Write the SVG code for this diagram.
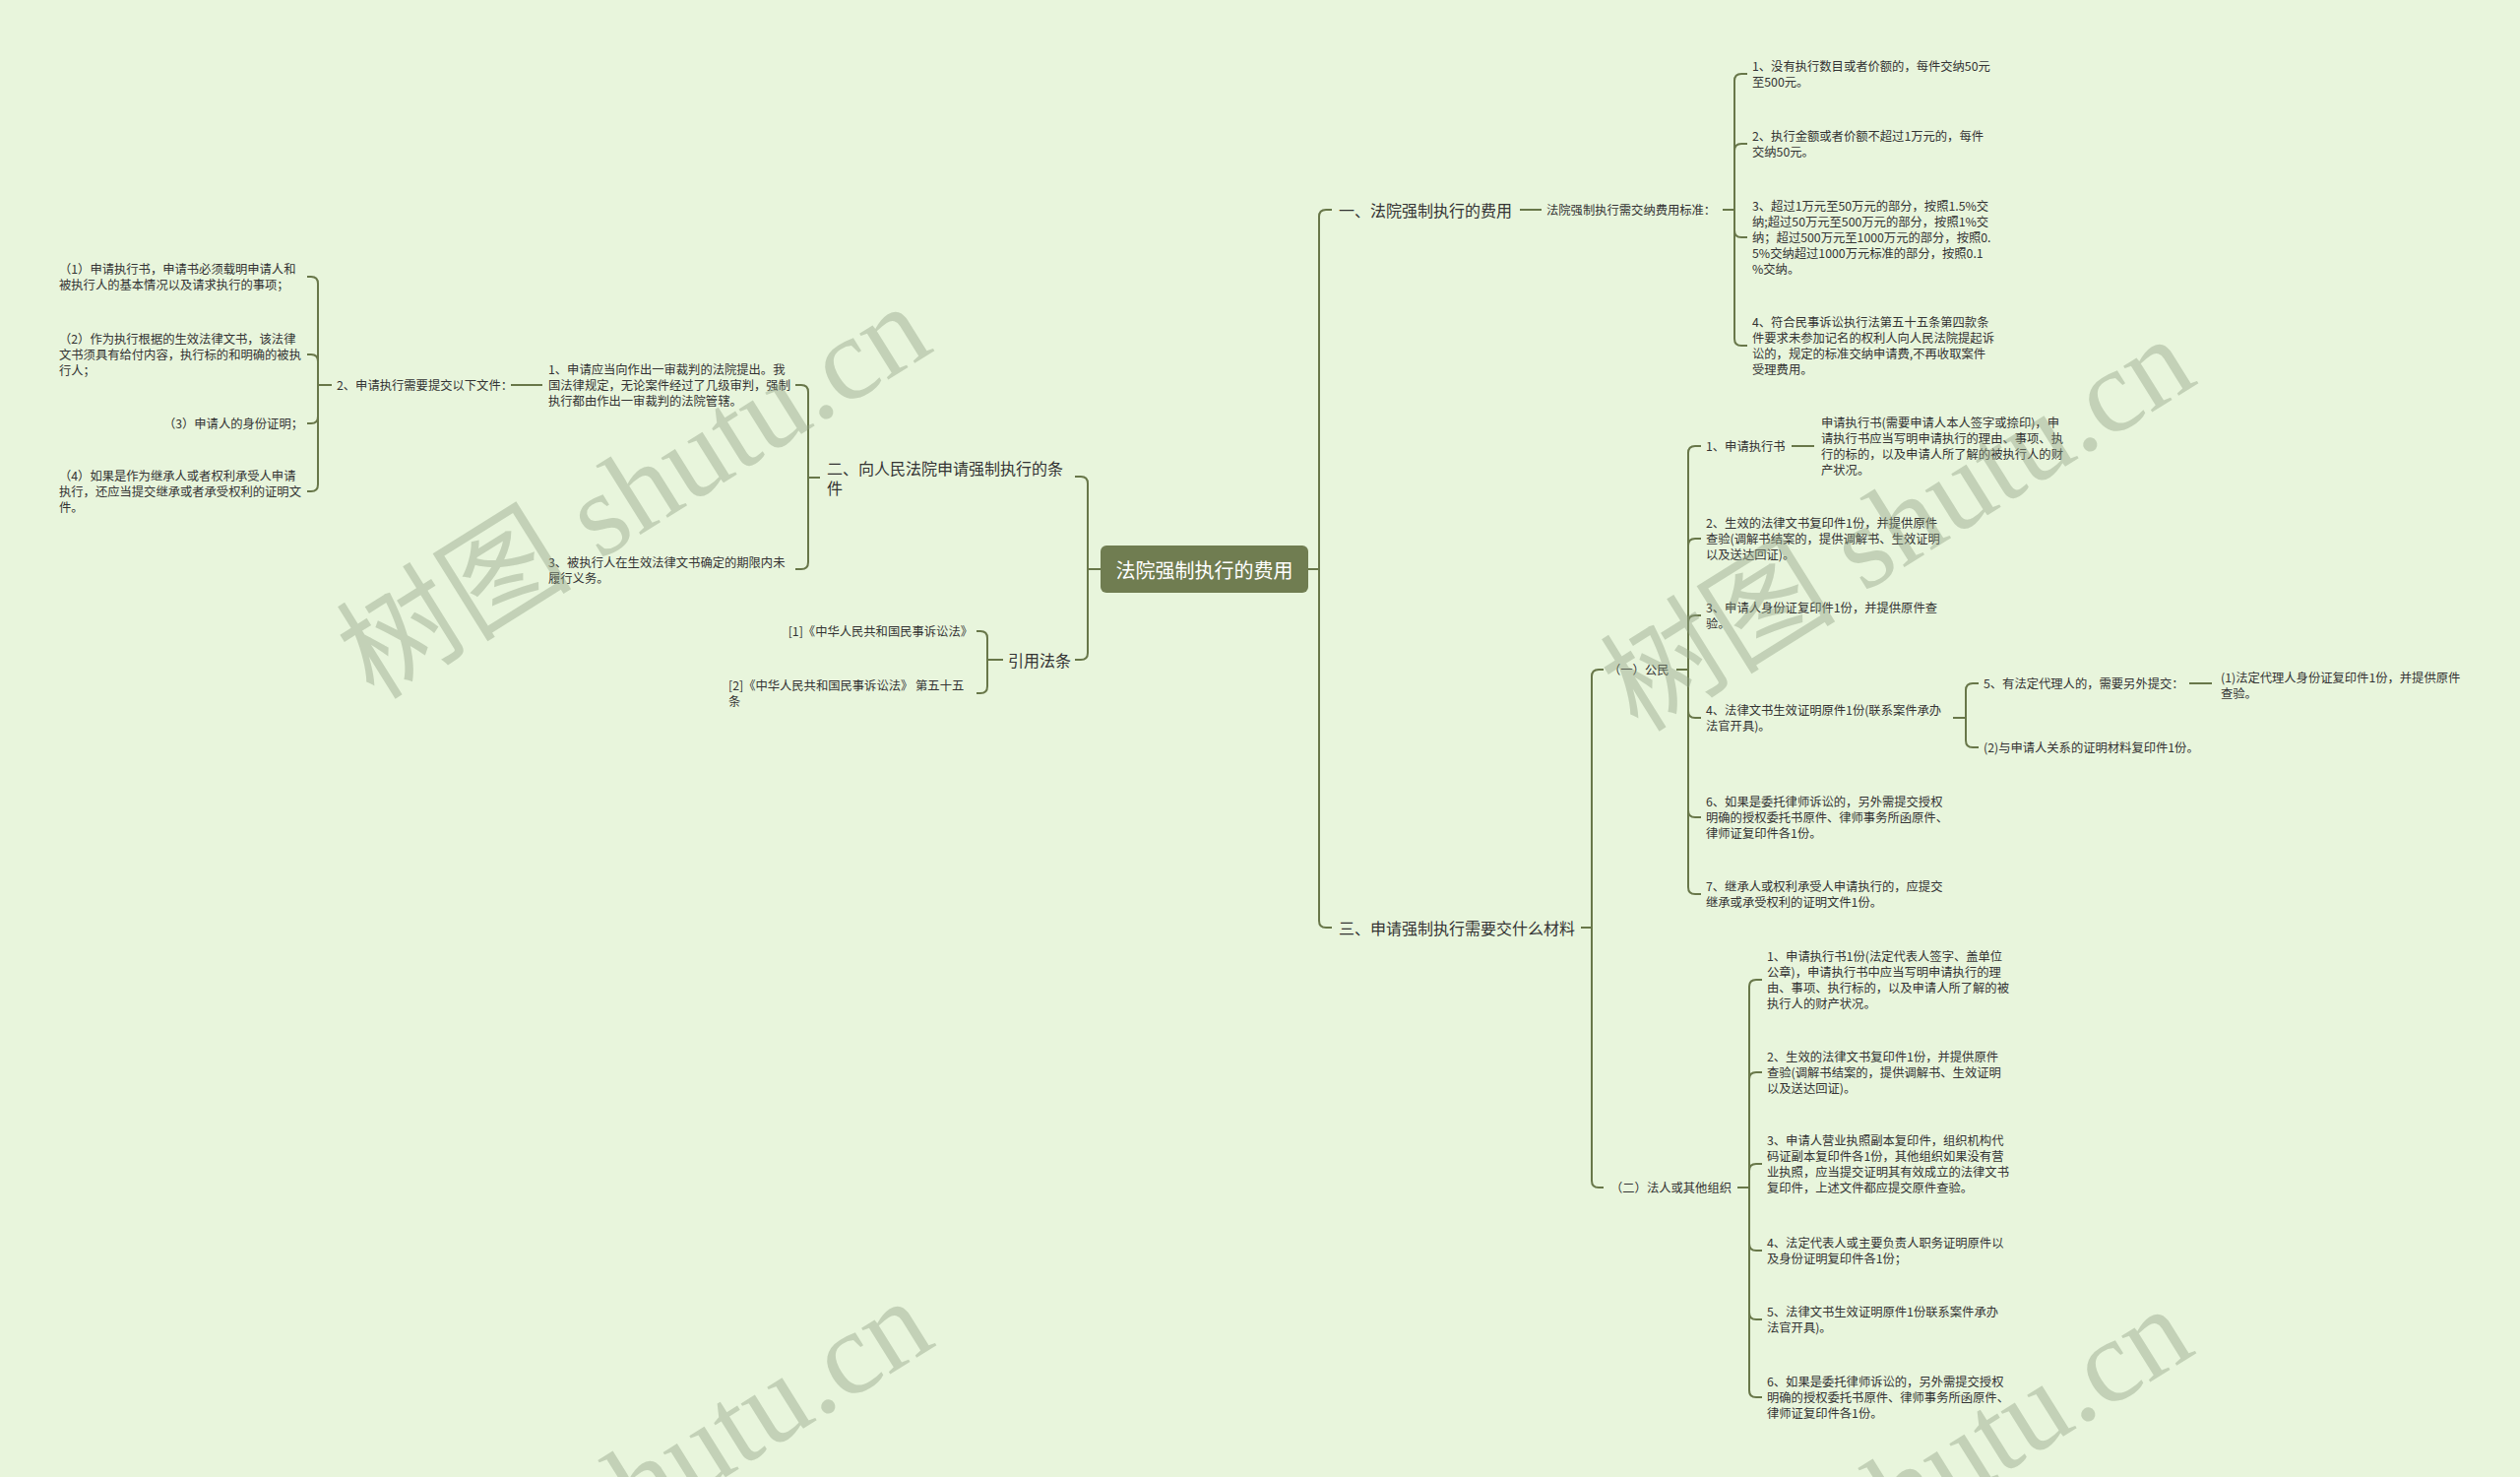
<svg xmlns="http://www.w3.org/2000/svg" width="2560" height="1500" viewBox="0 0 2560 1500">
<style>
text{font-family:"Noto Sans CJK SC","Noto Sans",sans-serif;fill:#333;dominant-baseline:central}
.s{font-size:12.3px}
.m{font-size:16px}
.root{font-size:20px;fill:#fff}
.c path,.c line{fill:none;stroke:#687749;stroke-width:2}
.wm{font-family:"Liberation Serif","Noto Sans CJK SC",serif;font-size:120px;fill:#8f9f82;fill-opacity:0.42;dominant-baseline:alphabetic}
</style>
<rect x="0" y="0" width="2560" height="1500" fill="#e8f5dc"/>

<g class="c" id="connectors">
<!-- root right -->
<path d="M1329,578 H1340 V220 Q1340,213 1347,213 H1353"/>
<path d="M1329,578 H1340 V935 Q1340,942 1347,942 H1353"/>
<!-- root left -->
<path d="M1118,578 H1105 V491 Q1105,484 1098,484 H1092"/>
<path d="M1118,578 H1105 V663 Q1105,670 1098,670 H1092"/>
<!-- 二 -->
<path d="M833,485 H821 V398 Q821,391 814,391 H808"/>
<path d="M833,485 H821 V571 Q821,578 814,578 H808"/>
<!-- N1 to 2、 -->
<path d="M551,391 H519"/>
<!-- 2、 children -->
<path d="M337,391 H323 V288 Q323,281 316,281 H312"/>
<path d="M337,391 H323 V367 Q323,360 316,360 H312"/>
<path d="M337,391 H323 V423 Q323,430 316,430 H312"/>
<path d="M337,391 H323 V492 Q323,499 316,499 H312"/>
<!-- 引用法条 -->
<path d="M1019,670 H1003 V648 Q1003,641 996,641 H992"/>
<path d="M1019,670 H1003 V697 Q1003,704 996,704 H992"/>
<!-- 一 -->
<path d="M1544,213 H1566"/>
<path d="M1750,213 H1762 V82 Q1762,75 1769,75 H1775"/>
<path d="M1750,213 H1762 V153 Q1762,146 1769,146 H1775"/>
<path d="M1750,213 H1762 V234 Q1762,241 1769,241 H1775"/>
<path d="M1750,213 H1762 V344 Q1762,351 1769,351 H1775"/>
<!-- 三 -->
<path d="M1606,942 H1617 V687 Q1617,680 1624,680 H1629"/>
<path d="M1606,942 H1617 V1199 Q1617,1206 1624,1206 H1629"/>
<!-- 公民 -->
<path d="M1703,680 H1715 V460 Q1715,453 1722,453 H1728"/>
<path d="M1703,680 H1715 V554 Q1715,547 1722,547 H1728"/>
<path d="M1703,680 H1715 V632 Q1715,625 1722,625 H1728"/>
<path d="M1703,680 H1715 V722 Q1715,729 1722,729 H1728"/>
<path d="M1703,680 H1715 V823 Q1715,830 1722,830 H1728"/>
<path d="M1703,680 H1715 V901 Q1715,908 1722,908 H1728"/>
<path d="M1820,453 H1843"/>
<path d="M1984,729 H1997 V701 Q1997,694 2004,694 H2010"/>
<path d="M1984,729 H1997 V752 Q1997,759 2004,759 H2010"/>
<path d="M2224,694 H2247"/>
<!-- 法人 -->
<path d="M1765,1206 H1777 V1002 Q1777,995 1784,995 H1790"/>
<path d="M1765,1206 H1777 V1096 Q1777,1089 1784,1089 H1790"/>
<path d="M1765,1206 H1777 V1189 Q1777,1182 1784,1182 H1790"/>
<path d="M1765,1206 H1777 V1263 Q1777,1270 1784,1270 H1790"/>
<path d="M1765,1206 H1777 V1333 Q1777,1340 1784,1340 H1790"/>
<path d="M1765,1206 H1777 V1412 Q1777,1419 1784,1419 H1790"/>
</g>

<g id="root">
<rect x="1118" y="554" width="211" height="48" rx="6" fill="#707d51"/>
<text class="root" x="1223.5" y="578" text-anchor="middle">法院强制执行的费用</text>
</g>

<!-- left side -->
<g id="n-er"><text class="m" x="840" y="475">二、向人民法院申请强制执行的条<tspan x="840" dy="20">件</tspan></text></g>
<g id="n-er-1"><text class="s" x="557" y="375">1、申请应当向作出一审裁判的法院提出。我<tspan x="557" dy="16">国法律规定，无论案件经过了几级审判，强制</tspan><tspan x="557" dy="16">执行都由作出一审裁判的法院管辖。</tspan></text></g>
<g id="n-er-3"><text class="s" x="557" y="571">3、被执行人在生效法律文书确定的期限内未<tspan x="557" dy="16">履行义务。</tspan></text></g>
<g id="n-er-1-2"><text class="s" x="342" y="391">2、申请执行需要提交以下文件：</text></g>
<g id="n-l1"><text class="s" x="60" y="273">（1）申请执行书，申请书必须载明申请人和<tspan x="60" dy="16">被执行人的基本情况以及请求执行的事项；</tspan></text></g>
<g id="n-l2"><text class="s" x="60" y="344">（2）作为执行根据的生效法律文书，该法律<tspan x="60" dy="16">文书须具有给付内容，执行标的和明确的被执</tspan><tspan x="60" dy="16">行人；</tspan></text></g>
<g id="n-l3"><text class="s" x="308" y="430" text-anchor="end">（3）申请人的身份证明；</text></g>
<g id="n-l4"><text class="s" x="60" y="483">（4）如果是作为继承人或者权利承受人申请<tspan x="60" dy="16">执行，还应当提交继承或者承受权利的证明文</tspan><tspan x="60" dy="16">件。</tspan></text></g>
<g id="n-yin"><text class="m" x="1024" y="670">引用法条</text></g>
<g id="n-r1"><text class="s" x="988" y="641" text-anchor="end">[1]《中华人民共和国民事诉讼法》</text></g>
<g id="n-r2"><text class="s" x="740" y="696">[2]《中华人民共和国民事诉讼法》 第五十五<tspan x="740" dy="16">条</tspan></text></g>

<!-- right side -->
<g id="n-yi"><text class="m" x="1360" y="213">一、法院强制执行的费用</text></g>
<g id="n-yi-std"><text class="s" x="1571" y="213">法院强制执行需交纳费用标准：</text></g>
<g id="n-c1"><text class="s" x="1780" y="67">1、没有执行数目或者价额的，每件交纳50元<tspan x="1780" dy="16">至500元。</tspan></text></g>
<g id="n-c2"><text class="s" x="1780" y="138">2、执行金额或者价额不超过1万元的，每件<tspan x="1780" dy="16">交纳50元。</tspan></text></g>
<g id="n-c3"><text class="s" x="1780" y="209">3、超过1万元至50万元的部分，按照1.5%交<tspan x="1780" dy="16">纳;超过50万元至500万元的部分，按照1%交</tspan><tspan x="1780" dy="16">纳；超过500万元至1000万元的部分，按照0.</tspan><tspan x="1780" dy="16">5%交纳超过1000万元标准的部分，按照0.1</tspan><tspan x="1780" dy="16">%交纳。</tspan></text></g>
<g id="n-c4"><text class="s" x="1780" y="327">4、符合民事诉讼执行法第五十五条第四款条<tspan x="1780" dy="16">件要求未参加记名的权利人向人民法院提起诉</tspan><tspan x="1780" dy="16">讼的，规定的标准交纳申请费,不再收取案件</tspan><tspan x="1780" dy="16">受理费用。</tspan></text></g>

<g id="n-san"><text class="m" x="1360" y="942">三、申请强制执行需要交什么材料</text></g>
<g id="n-gm"><text class="s" x="1634" y="680">（一）公民</text></g>
<g id="n-p1"><text class="s" x="1733" y="453">1、申请执行书</text></g>
<g id="n-p1a"><text class="s" x="1850" y="429">申请执行书(需要申请人本人签字或捺印)，申<tspan x="1850" dy="16">请执行书应当写明申请执行的理由、事项、执</tspan><tspan x="1850" dy="16">行的标的，以及申请人所了解的被执行人的财</tspan><tspan x="1850" dy="16">产状况。</tspan></text></g>
<g id="n-p2"><text class="s" x="1733" y="531">2、生效的法律文书复印件1份，并提供原件<tspan x="1733" dy="16">查验(调解书结案的，提供调解书、生效证明</tspan><tspan x="1733" dy="16">以及送达回证)。</tspan></text></g>
<g id="n-p3"><text class="s" x="1733" y="617">3、申请人身份证复印件1份，并提供原件查<tspan x="1733" dy="16">验。</tspan></text></g>
<g id="n-p4"><text class="s" x="1733" y="721">4、法律文书生效证明原件1份(联系案件承办<tspan x="1733" dy="16">法官开具)。</tspan></text></g>
<g id="n-p5"><text class="s" x="2015" y="694">5、有法定代理人的，需要另外提交：</text></g>
<g id="n-p5a"><text class="s" x="2256" y="688">(1)法定代理人身份证复印件1份，并提供原件<tspan x="2256" dy="16">查验。</tspan></text></g>
<g id="n-p5b"><text class="s" x="2015" y="759">(2)与申请人关系的证明材料复印件1份。</text></g>
<g id="n-p6"><text class="s" x="1733" y="814">6、如果是委托律师诉讼的，另外需提交授权<tspan x="1733" dy="16">明确的授权委托书原件、律师事务所函原件、</tspan><tspan x="1733" dy="16">律师证复印件各1份。</tspan></text></g>
<g id="n-p7"><text class="s" x="1733" y="900">7、继承人或权利承受人申请执行的，应提交<tspan x="1733" dy="16">继承或承受权利的证明文件1份。</tspan></text></g>

<g id="n-fr"><text class="s" x="1636" y="1206">（二）法人或其他组织</text></g>
<g id="n-q1"><text class="s" x="1795" y="971">1、申请执行书1份(法定代表人签字、盖单位<tspan x="1795" dy="16">公章)，申请执行书中应当写明申请执行的理</tspan><tspan x="1795" dy="16">由、事项、执行标的，以及申请人所了解的被</tspan><tspan x="1795" dy="16">执行人的财产状况。</tspan></text></g>
<g id="n-q2"><text class="s" x="1795" y="1073">2、生效的法律文书复印件1份，并提供原件<tspan x="1795" dy="16">查验(调解书结案的，提供调解书、生效证明</tspan><tspan x="1795" dy="16">以及送达回证)。</tspan></text></g>
<g id="n-q3"><text class="s" x="1795" y="1158">3、申请人营业执照副本复印件，组织机构代<tspan x="1795" dy="16">码证副本复印件各1份，其他组织如果没有营</tspan><tspan x="1795" dy="16">业执照，应当提交证明其有效成立的法律文书</tspan><tspan x="1795" dy="16">复印件，上述文件都应提交原件查验。</tspan></text></g>
<g id="n-q4"><text class="s" x="1795" y="1262">4、法定代表人或主要负责人职务证明原件以<tspan x="1795" dy="16">及身份证明复印件各1份；</tspan></text></g>
<g id="n-q5"><text class="s" x="1795" y="1332">5、法律文书生效证明原件1份联系案件承办<tspan x="1795" dy="16">法官开具)。</tspan></text></g>
<g id="n-q6"><text class="s" x="1795" y="1403">6、如果是委托律师诉讼的，另外需提交授权<tspan x="1795" dy="16">明确的授权委托书原件、律师事务所函原件、</tspan><tspan x="1795" dy="16">律师证复印件各1份。</tspan></text></g>

<g id="watermark">
<text class="wm" transform="translate(380,712) rotate(-32)">树图 shutu.cn</text>
<text class="wm" transform="translate(1664,745) rotate(-32)">树图 shutu.cn</text>
<text class="wm" transform="translate(382,1722) rotate(-32)">树图 shutu.cn</text>
<text class="wm" transform="translate(1662,1730) rotate(-32)">树图 shutu.cn</text>
</g>
</svg>
